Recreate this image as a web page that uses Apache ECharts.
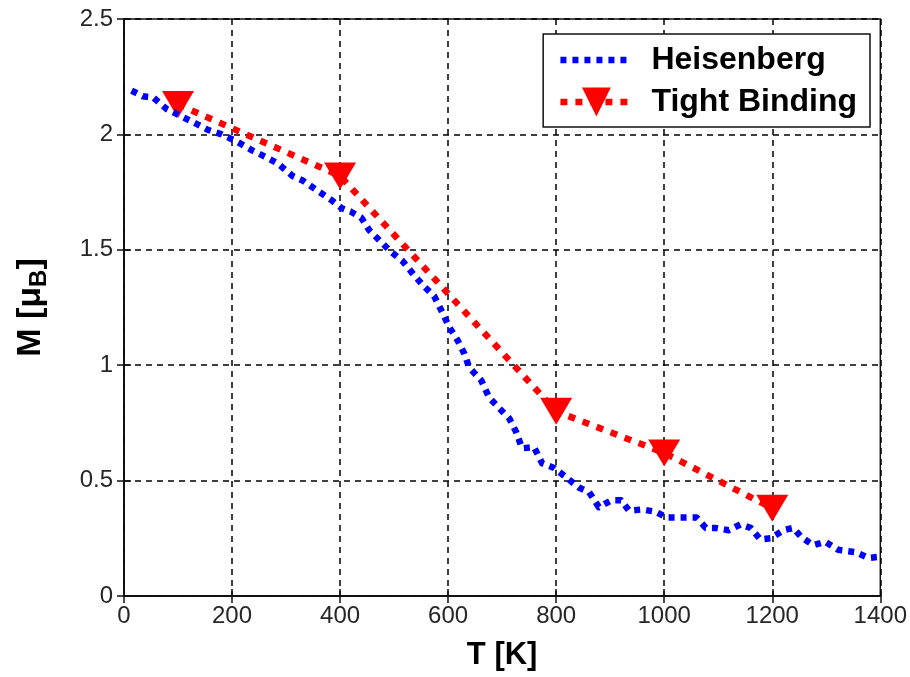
<!DOCTYPE html>
<html>
<head>
<meta charset="utf-8">
<script src="https://cdn.jsdelivr.net/npm/echarts@6/dist/echarts.min.js"></script>
<style>
  html, body { margin: 0; padding: 0; background: #fff; }
  #chart { width: 910px; height: 677px; }
</style>
</head>
<body>
<div id="chart"></div>
<script>
// Magnetisation vs temperature: Heisenberg model (dense) and tight-binding (sparse)
const heisenbergT = [14, 35, 54, 79, 122, 155, 181, 208, 238, 264, 284, 312, 331, 362, 384, 403, 420, 439, 454, 473, 495, 516, 537, 556, 574, 589, 602, 617, 630, 639, 661, 676, 694, 713, 726, 737, 759, 774, 796, 818, 842, 861, 879, 903, 920, 935, 959, 984, 1005, 1021, 1042, 1060, 1077, 1095, 1119, 1141, 1160, 1178, 1197, 1221, 1239, 1254, 1276, 1298, 1322, 1354, 1378, 1400];
const heisenbergM = [2.19, 2.165, 2.16, 2.11, 2.06, 2.02, 2.0, 1.97, 1.93, 1.90, 1.875, 1.82, 1.80, 1.75, 1.715, 1.68, 1.665, 1.64, 1.585, 1.54, 1.49, 1.45, 1.39, 1.34, 1.30, 1.23, 1.165, 1.11, 1.05, 0.99, 0.935, 0.86, 0.815, 0.77, 0.71, 0.64, 0.645, 0.575, 0.555, 0.515, 0.47, 0.45, 0.385, 0.415, 0.415, 0.37, 0.375, 0.365, 0.34, 0.34, 0.34, 0.34, 0.295, 0.295, 0.285, 0.31, 0.295, 0.245, 0.25, 0.285, 0.295, 0.255, 0.22, 0.235, 0.2, 0.19, 0.165, 0.17];

const tightT = [100, 400, 800, 1000, 1200];
const tightM = [2.13, 1.82, 0.80, 0.62, 0.38];

const xTicks = [0, 200, 400, 600, 800, 1000, 1200, 1400];
const yTicks = [0, 0.5, 1, 1.5, 2, 2.5];

const pairs = (xs, ys) => xs.map((x, i) => [x, ys[i]]);

const fontFamily = '"Liberation Sans", Arial, sans-serif';
const frameColor = '#111';
const gridLine = { show: true, lineStyle: { color: '#000', width: 1.5, type: [6, 5] } };
const tickStyle = { show: true, inside: true, length: 7, lineStyle: { color: frameColor, width: 1.5 } };
const labelStyle = { fontFamily, fontSize: 24, color: '#262626', formatter: v => String(v) };

const blueDots = { color: '#0000ff', width: 6.5, type: [6, 6], cap: 'butt', join: 'round' };
const redDots = { color: '#ff0000', width: 6.5, type: [7, 8], cap: 'butt' };

const chart = echarts.init(document.getElementById('chart'));
chart.setOption({
  animation: false,
  backgroundColor: '#fff',
  grid: { left: 124, right: 28, top: 19, bottom: 81, show: true, borderColor: frameColor, borderWidth: 1.5, backgroundColor: 'transparent' },
  legend: {
    right: 40, top: 34,
    orient: 'vertical',
    backgroundColor: '#fff',
    borderColor: frameColor, borderWidth: 1.5,
    borderRadius: 0,
    padding: [10, 13, 9, 14],
    itemGap: 10,
    itemWidth: 72, itemHeight: 36,
    textStyle: { fontFamily, fontSize: 32, fontWeight: 'bold', color: '#000', padding: [0, 0, 0, 14] },
    data: [
      { name: 'Heisenberg', itemStyle: { color: 'rgba(0,0,0,0)', borderWidth: 0 }, lineStyle: blueDots },
      { name: 'Tight Binding', lineStyle: redDots }
    ]
  },
  xAxis: [{
    type: 'value', min: xTicks[0], max: xTicks[xTicks.length - 1], interval: 200,
    name: 'T [K]', nameLocation: 'middle', nameGap: 44,
    nameTextStyle: { fontFamily, fontSize: 31, fontWeight: 'bold', color: '#000' },
    axisLine: { show: true, onZero: false, lineStyle: { color: frameColor, width: 1.5 } },
    axisTick: tickStyle,
    axisLabel: Object.assign({ margin: 8 }, labelStyle),
    splitLine: gridLine
  }, {
    type: 'value', position: 'top', min: xTicks[0], max: xTicks[xTicks.length - 1], interval: 200,
    axisLine: { show: true, lineStyle: { color: frameColor, width: 1.5 } },
    axisTick: tickStyle,
    axisLabel: { show: false }, splitLine: { show: false }
  }],
  yAxis: [{
    type: 'value', min: yTicks[0], max: yTicks[yTicks.length - 1], interval: 0.5,
    name: '{m|M [μ}{s|B}{m|]}', nameLocation: 'middle', nameGap: 73,
    nameTextStyle: {
      rich: {
        m: { fontFamily, fontSize: 34, fontWeight: 'bold', color: '#000' },
        s: { fontFamily, fontSize: 24, fontWeight: 'bold', color: '#000', verticalAlign: 'bottom', padding: [16, 0, 0, 0] }
      }
    },
    axisLine: { show: true, onZero: false, lineStyle: { color: frameColor, width: 1.5 } },
    axisTick: tickStyle,
    axisLabel: Object.assign({ margin: 11 }, labelStyle),
    splitLine: gridLine
  }, {
    type: 'value', position: 'right', min: yTicks[0], max: yTicks[yTicks.length - 1], interval: 0.5,
    axisLine: { show: true, lineStyle: { color: frameColor, width: 1.5 } },
    axisTick: tickStyle,
    axisLabel: { show: false }, splitLine: { show: false }
  }],
  series: [{
    name: 'Heisenberg',
    type: 'line',
    data: pairs(heisenbergT, heisenbergM),
    showSymbol: false,
    symbol: 'none',
    color: '#0000ff',
    lineStyle: blueDots,
    z: 3
  }, {
    name: 'Tight Binding',
    type: 'line',
    data: pairs(tightT, tightM),
    symbol: 'triangle',
    symbolRotate: 180,
    symbolSize: [32, 27],
    color: '#ff0000',
    itemStyle: { color: '#ff0000' },
    lineStyle: redDots,
    z: 2
  }]
});
</script>
</body>
</html>
